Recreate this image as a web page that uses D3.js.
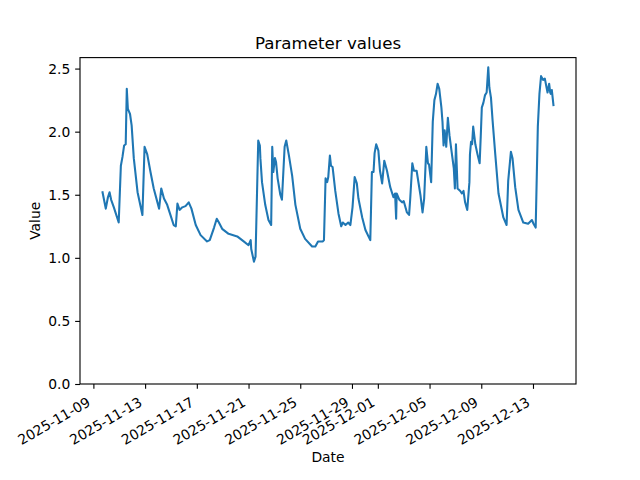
<!DOCTYPE html>
<html>
<head>
<meta charset="utf-8">
<script src="https://cdn.jsdelivr.net/npm/d3@7"></script>
<style>
  html, body { margin: 0; padding: 0; background: #fff; }
  svg { display: block; font-family: "DejaVu Sans", sans-serif; }
</style>
</head>
<body>
<svg id="chart" width="640" height="480"></svg>
<script>
// ---- data ----
const timestamps = [
  "2025-11-09 17:00","2025-11-09 23:00","2025-11-10 03:00","2025-11-10 06:00","2025-11-10 09:00",
  "2025-11-10 14:00","2025-11-10 23:00","2025-11-11 03:00","2025-11-11 06:00","2025-11-11 09:00",
  "2025-11-11 12:00","2025-11-11 14:00","2025-11-11 16:00","2025-11-11 20:00","2025-11-11 23:00",
  "2025-11-12 03:00","2025-11-12 10:00","2025-11-12 19:00","2025-11-12 23:00","2025-11-13 04:00",
  "2025-11-13 10:00","2025-11-13 16:00","2025-11-14 02:00","2025-11-14 06:00","2025-11-14 11:00",
  "2025-11-14 17:00","2025-11-14 23:00","2025-11-15 05:00","2025-11-15 09:00","2025-11-15 12:00",
  "2025-11-15 16:00","2025-11-15 21:00","2025-11-16 03:00","2025-11-16 09:00","2025-11-16 14:00",
  "2025-11-16 22:00","2025-11-17 07:00","2025-11-17 19:00","2025-11-18 00:00","2025-11-18 08:00",
  "2025-11-18 13:00","2025-11-18 17:00","2025-11-18 23:00","2025-11-19 11:00","2025-11-20 03:00",
  "2025-11-20 15:00","2025-11-21 00:00","2025-11-21 04:00","2025-11-21 05:00","2025-11-21 10:00",
  "2025-11-21 13:00","2025-11-21 18:00","2025-11-21 21:00","2025-11-21 22:00","2025-11-22 01:00",
  "2025-11-22 07:00","2025-11-22 13:00","2025-11-22 18:00","2025-11-22 20:00","2025-11-22 22:00",
  "2025-11-23 01:00","2025-11-23 03:00","2025-11-23 06:00","2025-11-23 11:00","2025-11-23 14:00",
  "2025-11-23 19:00","2025-11-23 22:00","2025-11-24 03:00","2025-11-24 09:00","2025-11-24 15:00",
  "2025-11-25 00:00","2025-11-25 09:00","2025-11-25 22:00","2025-11-26 04:00","2025-11-26 09:00",
  "2025-11-26 18:00","2025-11-26 20:00","2025-11-26 23:00","2025-11-27 02:00","2025-11-27 04:00",
  "2025-11-27 07:00","2025-11-27 09:00","2025-11-27 12:00","2025-11-27 17:00","2025-11-27 23:00",
  "2025-11-28 04:00","2025-11-28 07:00","2025-11-28 12:00","2025-11-28 17:00","2025-11-28 21:00",
  "2025-11-29 01:00","2025-11-29 05:00","2025-11-29 09:00","2025-11-29 12:00","2025-11-29 19:00",
  "2025-11-30 01:00","2025-11-30 10:00","2025-11-30 13:00","2025-11-30 16:00","2025-11-30 18:00",
  "2025-11-30 21:00","2025-12-01 01:00","2025-12-01 04:00","2025-12-01 08:00","2025-12-01 12:00",
  "2025-12-01 17:00","2025-12-01 23:00","2025-12-02 05:00","2025-12-02 08:00","2025-12-02 10:00",
  "2025-12-02 11:00","2025-12-02 16:00","2025-12-02 21:00","2025-12-03 00:00","2025-12-03 06:00",
  "2025-12-03 10:00","2025-12-03 12:00","2025-12-03 16:00","2025-12-03 19:00","2025-12-04 00:00",
  "2025-12-04 07:00","2025-12-04 11:00","2025-12-04 14:00","2025-12-04 18:00","2025-12-04 21:00",
  "2025-12-04 23:00","2025-12-05 03:00","2025-12-05 06:00","2025-12-05 09:00","2025-12-05 12:00",
  "2025-12-05 15:00","2025-12-05 18:00","2025-12-05 22:00","2025-12-06 00:00","2025-12-06 02:00",
  "2025-12-06 04:00","2025-12-06 05:00","2025-12-06 07:00","2025-12-06 10:00","2025-12-06 13:00",
  "2025-12-06 17:00","2025-12-06 21:00","2025-12-06 23:00","2025-12-07 01:00","2025-12-07 04:00",
  "2025-12-07 09:00","2025-12-07 12:00","2025-12-07 15:00","2025-12-07 18:00","2025-12-07 22:00",
  "2025-12-08 02:00","2025-12-08 03:00","2025-12-08 05:00","2025-12-08 07:00","2025-12-08 09:00",
  "2025-12-08 13:00","2025-12-08 17:00","2025-12-08 21:00","2025-12-08 23:00","2025-12-09 01:00",
  "2025-12-09 04:00","2025-12-09 07:00","2025-12-09 10:00","2025-12-09 13:00","2025-12-09 15:00",
  "2025-12-09 18:00","2025-12-09 21:00","2025-12-10 02:00","2025-12-10 08:00","2025-12-10 17:00",
  "2025-12-10 23:00","2025-12-11 02:00","2025-12-11 07:00","2025-12-11 10:00","2025-12-11 15:00",
  "2025-12-11 21:00","2025-12-12 06:00","2025-12-12 15:00","2025-12-12 22:00","2025-12-13 01:00",
  "2025-12-13 05:00","2025-12-13 09:00","2025-12-13 12:00","2025-12-13 15:00","2025-12-13 19:00",
  "2025-12-13 22:00","2025-12-14 03:00","2025-12-14 06:00","2025-12-14 08:00","2025-12-14 09:00",
  "2025-12-14 11:00","2025-12-14 14:00"
];
const values = [
  1.52,1.39,1.48,1.52,1.46,
  1.40,1.28,1.73,1.80,1.89,
  1.90,2.34,2.18,2.14,2.05,
  1.79,1.52,1.34,1.88,1.82,
  1.68,1.55,1.39,1.55,1.47,
  1.42,1.34,1.26,1.25,1.43,
  1.38,1.40,1.41,1.44,1.39,
  1.26,1.18,1.13,1.14,1.24,
  1.31,1.28,1.23,1.19,1.17,
  1.13,1.10,1.14,1.07,0.97,
  1.01,1.93,1.89,1.79,1.60,
  1.42,1.30,1.26,1.88,1.68,
  1.79,1.76,1.63,1.50,1.46,
  1.88,1.93,1.81,1.65,1.42,
  1.23,1.15,1.09,1.09,1.13,
  1.13,1.14,1.63,1.60,1.64,
  1.81,1.73,1.72,1.53,1.35,
  1.25,1.28,1.26,1.28,1.26,
  1.40,1.64,1.59,1.47,1.32,
  1.22,1.14,1.68,1.68,1.83,
  1.90,1.85,1.69,1.59,1.77,
  1.69,1.56,1.48,1.51,1.31,
  1.51,1.46,1.44,1.45,1.36,
  1.34,1.46,1.75,1.69,1.69,
  1.50,1.36,1.47,1.88,1.75,
  1.74,1.60,2.08,2.25,2.30,
  2.38,2.34,2.19,2.08,1.89,
  2.01,1.97,1.88,2.11,1.97,
  1.84,1.71,1.55,1.90,1.55,
  1.53,1.51,1.53,1.44,1.38,
  1.60,1.82,1.92,1.90,2.04,
  1.90,1.82,1.75,1.96,2.19,
  2.23,2.29,2.31,2.51,2.35,
  2.27,2.09,1.82,1.51,1.32,
  1.26,1.61,1.84,1.79,1.56,
  1.38,1.28,1.27,1.30,1.27,
  1.24,2.04,2.30,2.44,2.41,
  2.42,2.31,2.38,2.31,2.30,
  2.33,2.21
];
const xTickLabels = ["2025-11-09","2025-11-13","2025-11-17","2025-11-21","2025-11-25",
  "2025-11-29","2025-12-01","2025-12-05","2025-12-09","2025-12-13"];
const yTickValues = [0.0, 0.5, 1.0, 1.5, 2.0, 2.5];
const chartTitle = "Parameter values";
const xLabel = "Date";
const yLabel = "Value";

// ---- layout (matplotlib-like) ----
const W = 640, H = 480;
const mLeft = 80, mRight = 576, mTop = 57.6, mBottom = 384;
const lineColor = "#1f77b4";
const fs = 13.89;

const parse = d3.utcParse("%Y-%m-%d %H:%M");
const parseDay = d3.utcParse("%Y-%m-%d");
const data = timestamps.map((t, i) => ({ t: parse(t), v: values[i] }));

const tExt = d3.extent(data, d => d.t);
const span = tExt[1] - tExt[0];
const x = d3.scaleUtc()
  .domain([new Date(+tExt[0] - 0.05 * span), new Date(+tExt[1] + 0.05 * span)])
  .range([mLeft, mRight]);

const vMax = d3.max(values), vMin = d3.min(values);
const y = d3.scaleLinear()
  .domain([0, vMax + 0.05 * (vMax - vMin)])
  .range([mBottom, mTop]);

const svg = d3.select("#chart");
svg.append("rect").attr("width", W).attr("height", H).attr("fill", "#fff");

// line
const line = d3.line().x(d => x(d.t)).y(d => y(d.v));
svg.append("path")
  .datum(data)
  .attr("d", line)
  .attr("fill", "none")
  .attr("stroke", lineColor)
  .attr("stroke-width", 2.08)
  .attr("stroke-linejoin", "round")
  .attr("stroke-linecap", "square");

// x axis
const xTicks = xTickLabels.map(parseDay);
const xAxis = d3.axisBottom(x)
  .tickValues(xTicks)
  .tickFormat(d3.utcFormat("%Y-%m-%d"))
  .tickSizeOuter(0)
  .tickSize(4.86)
  .tickPadding(4.86);
const gx = svg.append("g").attr("transform", `translate(0,${mBottom})`).call(xAxis);
gx.select(".domain").remove();
gx.selectAll(".tick line").attr("stroke", "#000").attr("stroke-width", 1.11);
gx.selectAll(".tick text")
  .attr("font-size", fs)
  .attr("font-family", "DejaVu Sans")
  .attr("fill", "#000")
  .attr("text-anchor", "end")
  .attr("y", 0).attr("dy", 0)
  .attr("transform", "translate(-2.5,21) rotate(-30)");

// y axis
const yAxis = d3.axisLeft(y)
  .tickValues(yTickValues)
  .tickFormat(d3.format(".1f"))
  .tickSizeOuter(0)
  .tickSize(4.86)
  .tickPadding(4.86);
const gy = svg.append("g").attr("transform", `translate(${mLeft},0)`).call(yAxis);
gy.select(".domain").remove();
gy.selectAll(".tick line").attr("stroke", "#000").attr("stroke-width", 1.11);
gy.selectAll(".tick text")
  .attr("font-size", fs)
  .attr("font-family", "DejaVu Sans")
  .attr("fill", "#000");

// frame
svg.append("rect")
  .attr("x", mLeft).attr("y", mTop)
  .attr("width", mRight - mLeft).attr("height", mBottom - mTop)
  .attr("fill", "none").attr("stroke", "#000").attr("stroke-width", 1.11);

// title and labels
svg.append("text")
  .attr("x", (mLeft + mRight) / 2).attr("y", 49.3)
  .attr("text-anchor", "middle")
  .attr("font-size", 16.67)
  .attr("fill", "#000")
  .text(chartTitle);

svg.append("text")
  .attr("x", (mLeft + mRight) / 2).attr("y", 462)
  .attr("text-anchor", "middle")
  .attr("font-size", fs)
  .attr("fill", "#000")
  .text(xLabel);

svg.append("text")
  .attr("transform", `translate(40,${(mTop + mBottom) / 2}) rotate(-90)`)
  .attr("text-anchor", "middle")
  .attr("font-size", fs)
  .attr("fill", "#000")
  .text(yLabel);
</script>
</body>
</html>
